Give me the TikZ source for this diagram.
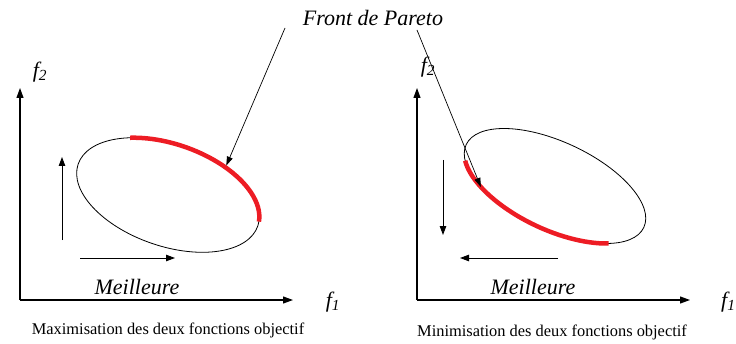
\documentclass[tikz,border=0pt]{standalone}
\usepackage{fontspec}
\setmainfont{Liberation Serif}
\usetikzlibrary{arrows.meta, positioning}
\definecolor{cFront}{RGB}{237,28,36}
\tikzset{
	axis/.style   ={-{Triangle[length=10pt, width=7pt]}, line width=1.1pt},
	better/.style ={-{Triangle[length=9pt, width=6.5pt]}, line width=0.9pt},
	oval/.style   ={draw=black, line width=0.8pt},
	front/.style  ={draw=cFront, line width=4.5pt},
	pointer/.style={-{Triangle[length=9pt, width=6pt]}, line width=0.7pt},
	lbl/.style    ={font=\fontsize{22}{26}\selectfont\itshape, inner sep=1pt},
	caption/.style={font=\fontsize{16.4}{20}\selectfont, inner sep=1pt},
}
\begin{document}
\begin{tikzpicture}[x=1pt, y=1pt]
	\useasboundingbox (0,0) rectangle (736,343);
	% label shared by both panels
	\node[lbl] (front) at (373,325) {Front de Pareto};
	\coordinate (frontL) at (285,315);
	\coordinate (frontR) at (417,313);
	% left panel: maximisation
	\coordinate (oL) at (20,43);
	\draw[axis] (oL) -- ++(0,212);
	\draw[axis] (oL) -- ++(273,0);
	\node[lbl] (f2L) at (40,271) {f\textsubscript{2}};
	\node[lbl] (f1L) at (333,41) {f\textsubscript{1}};
	\begin{scope}[shift={(168,148)}, rotate=-19]
		\draw[oval] (0,0) ellipse [x radius=95pt, y radius=51pt];
		\draw[front] (125:95pt and 51pt) arc[start angle=125, end angle=5, x radius=95pt, y radius=51pt];
		\coordinate (tipL) at (62:97pt and 53pt);
	\end{scope}
	\coordinate (upA) at (62,103);
	\coordinate (upB) at (62,186);
	\draw[better] (upA) -- (upB);
	\coordinate (rtA) at (80,85);
	\coordinate (rtB) at (175,85);
	\draw[better] (rtA) -- (rtB);
	\node[lbl] (bestL) at (137,56) {Meilleure};
	\node[caption] (capL) at (168,13) {Maximisation des deux fonctions objectif};
	% right panel: minimisation
	\coordinate (oR) at (417,43);
	\draw[axis] (oR) -- ++(0,212);
	\draw[axis] (oR) -- ++(273,0);
	\node[lbl] (f2R) at (428,276) {f\textsubscript{2}};
	\node[lbl, anchor=west] (f1R) at (720,41) {f\textsubscript{1}};
	\begin{scope}[shift={(555,157)}, rotate=-25]
		\draw[oval] (0,0) ellipse [x radius=98pt, y radius=44pt];
		\draw[front] (200:98pt and 44pt) arc[start angle=200, end angle=318, x radius=98pt, y radius=44pt];
		\coordinate (tipR) at (227:98pt and 44pt);
	\end{scope}
	\coordinate (dnA) at (443,183);
	\coordinate (dnB) at (443,108);
	\draw[better] (dnA) -- (dnB);
	\coordinate (lfA) at (558,85);
	\coordinate (lfB) at (460,85);
	\draw[better] (lfA) -- (lfB);
	\node[lbl] (bestR) at (533,56) {Meilleure};
	\node[caption] (capR) at (552,11) {Minimisation des deux fonctions objectif};
	% pointers to both fronts
	\draw[pointer] (frontL) -- (tipL);
	\draw[pointer] (frontR) -- (tipR);
\end{tikzpicture}
\end{document}
